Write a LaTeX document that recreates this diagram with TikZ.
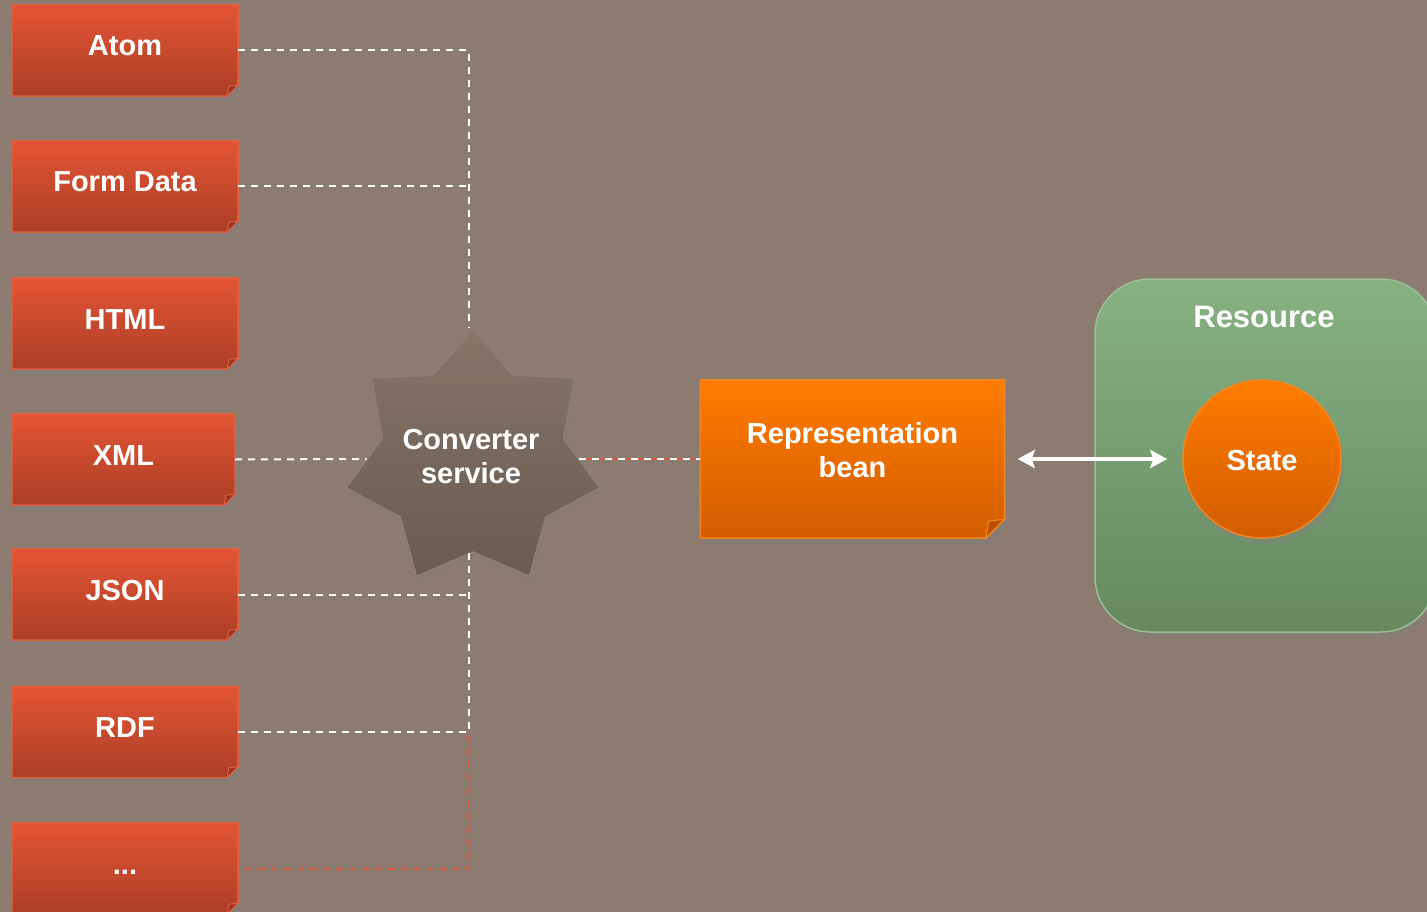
\documentclass[tikz,border=0pt]{standalone}
\usepackage{fontspec}
\setmainfont{Liberation Sans}
\usetikzlibrary{shapes.geometric,arrows.meta,shadows}
\pgfdeclarelayer{background}
\pgfsetlayers{background,main}
\definecolor{bgc}{RGB}{139,123,112}
\definecolor{boxtop}{RGB}{227,85,52}
\definecolor{boxbot}{RGB}{172,62,38}
\definecolor{boxline}{RGB}{222,98,66}
\definecolor{boxfold}{RGB}{150,52,32}
\definecolor{beantop}{RGB}{255,124,0}
\definecolor{beanbot}{RGB}{210,92,0}
\definecolor{beanline}{RGB}{245,135,30}
\definecolor{beanfold}{RGB}{185,78,0}
\definecolor{grtop}{RGB}{135,177,131}
\definecolor{grbot}{RGB}{103,136,96}
\definecolor{grline}{RGB}{155,192,150}
\definecolor{sttop}{RGB}{134,117,105}
\definecolor{stbot}{RGB}{104,91,81}
\definecolor{stline}{RGB}{143,128,117}
\definecolor{redl}{RGB}{218,88,60}
\newcommand\fmtfont{\bfseries\fontsize{29}{34}\selectfont}
\newcommand\foldshape[4]{%
  \begin{pgfonlayer}{background}
    \path[#3] (#1.north west) -- (#1.north east) -- ([yshift=#2]#1.south east)
      -- ([xshift=-#2]#1.south east) -- (#1.south west) -- cycle;
    \path[#4] ([xshift=-#2]#1.south east) -- ([xshift=-0.85*#2,yshift=0.9*#2]#1.south east)
      -- ([yshift=#2]#1.south east) -- cycle;
  \end{pgfonlayer}}
\tikzset{
  fmt/.style={rectangle,minimum width=226pt,minimum height=91pt,inner sep=0pt,
    text=white,font=\fmtfont,text height=11pt,text depth=0pt},
  fmtfill/.style={top color=boxtop,bottom color=boxbot,draw=boxline,line width=1.5pt,
    drop shadow={shadow xshift=2pt,shadow yshift=-5pt,opacity=0.45}},
  fmtfold/.style={fill=boxfold,draw=boxline,line width=1pt},
  beanbox/.style={rectangle,minimum width=304pt,minimum height=158pt,inner sep=0pt,
    text=white,font=\fmtfont,align=center},
  beanfill/.style={top color=beantop,bottom color=beanbot,draw=beanline,line width=1.5pt,
    drop shadow={shadow xshift=3pt,shadow yshift=-6pt,opacity=0.4}},
  beanfoldst/.style={fill=beanfold,draw=beanline,line width=1.2pt},
  convst/.style={star,star points=7,star point ratio=1.4,minimum size=260pt,inner sep=0pt,
    top color=sttop,bottom color=stbot,draw=stline,line width=1.2pt,
    drop shadow={shadow xshift=2pt,shadow yshift=-4pt,opacity=0.3}},
  convtxt/.style={text=white,font=\fmtfont,align=center,inner sep=0pt},
  resst/.style={rectangle,rounded corners=55pt,minimum width=341pt,minimum height=353pt,
    top color=grtop,bottom color=grbot,draw=grline,line width=1.5pt,
    drop shadow={shadow xshift=3pt,shadow yshift=-6pt,opacity=0.4}},
  titlest/.style={text=white,font=\bfseries\fontsize{31}{36}\selectfont,inner sep=0pt,
    text height=11pt,text depth=0pt},
  statest/.style={circle,minimum size=158pt,inner sep=0pt,
    top color=beantop,bottom color=beanbot,draw=beanline,line width=1.5pt,
    text=white,font=\fmtfont,text height=22pt,text depth=0pt,
    drop shadow={shadow xshift=3pt,shadow yshift=-6pt,opacity=0.4}},
  wdash/.style={white,line width=2pt,dash pattern=on 7pt off 6pt},
  rdash/.style={draw=redl,line width=2pt,dash pattern=on 7pt off 6pt,dash phase=6.5pt},
  dblarrow/.style={white,line width=3.5pt,
    {Stealth[length=17pt,width=18pt,inset=3pt]}-{Stealth[length=17pt,width=18pt,inset=3pt]}}
}
\begin{document}
\begin{tikzpicture}[x=1pt,y=-1pt]
\begin{pgfonlayer}{background}
  \fill[bgc] (0,0) rectangle (1427,912);
\end{pgfonlayer}
\useasboundingbox (0,0) rectangle (1427,912);

% format boxes
\node[fmt] (atom) at (125,50.5) {Atom};
\foldshape{atom}{11pt}{fmtfill}{fmtfold}
\node[fmt] (form) at (125,186.5) {Form Data};
\foldshape{form}{11pt}{fmtfill}{fmtfold}
\node[fmt] (html) at (125,323.5) {HTML};
\foldshape{html}{11pt}{fmtfill}{fmtfold}
\node[fmt,minimum width=223pt] (xml) at (123.5,459.5) {XML};
\foldshape{xml}{11pt}{fmtfill}{fmtfold}
\node[fmt] (json) at (125,594.5) {JSON};
\foldshape{json}{11pt}{fmtfill}{fmtfold}
\node[fmt] (rdf) at (125,732) {RDF};
\foldshape{rdf}{11pt}{fmtfill}{fmtfold}
\node[fmt] (dots) at (125,868.5) {...};
\foldshape{dots}{11pt}{fmtfill}{fmtfold}

% converter
\node[convst] (conv) at (473,459) {};
\node[convtxt] (convlabel) at (471,457) {Converter\\service};
\coordinate (vt) at ([xshift=-4pt]conv.north);
\coordinate (vb) at ([xshift=-4pt]conv.south);

% representation bean
\node[beanbox] (bean) at (852.5,459) {Representation\\bean\\[-16pt]\mbox{}};
\foldshape{bean}{19pt}{beanfill}{beanfoldst}

% resource
\node[resst] (res) at (1265.5,455.5) {};
\node[titlest] (restitle) at (1264,321.5) {Resource};
\node[statest] (state) at (1262,459) {State};

% connectors
\draw[wdash] (atom.east) -| (vt);
\draw[wdash] (form.east) -- (form.east -| vt);
\draw[wdash] (xml.east) -- (conv.west);
\draw[rdash] (dots.east) -| (vb);
\draw[wdash] (rdf.east) -| (vb);
\draw[wdash] (json.east) -- (json.east -| vb);
\draw[rdash] (conv.east) -- (conv.east -| bean.west);
\draw[wdash] (conv.east) -- (conv.east -| bean.west);
\draw[dblarrow] ([xshift=13pt]state.west -| bean.east) -- ([xshift=-15pt]state.west);
\end{tikzpicture}
\end{document}
